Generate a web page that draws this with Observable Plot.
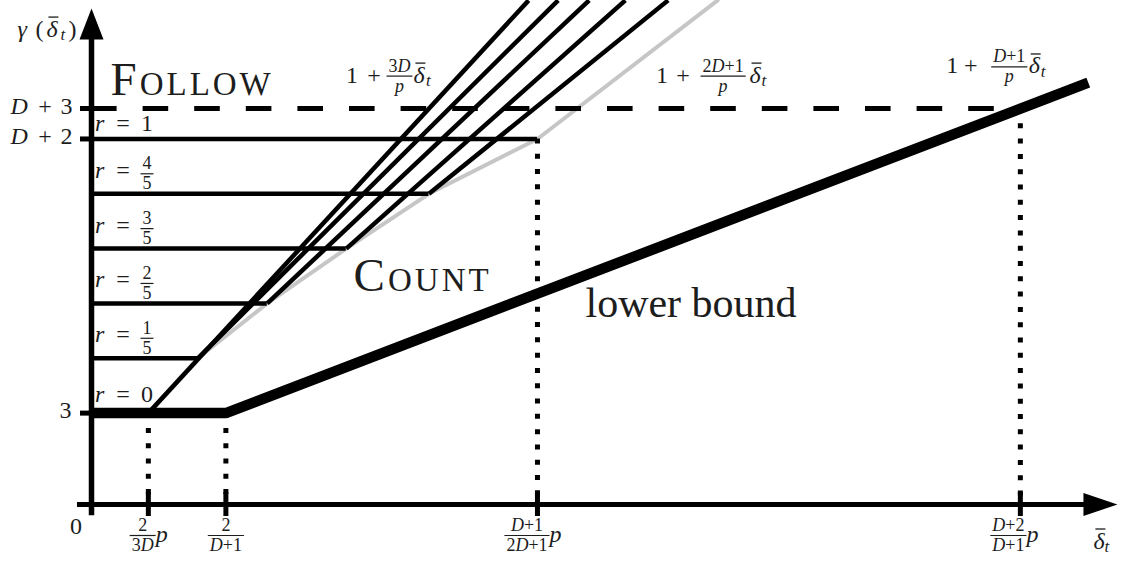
<!DOCTYPE html>
<html>
<head>
<meta charset="utf-8">
<script src="https://cdn.jsdelivr.net/npm/d3@7"></script>
<script src="https://cdn.jsdelivr.net/npm/@observablehq/plot@0.6"></script>
<style>
  html, body { margin: 0; padding: 0; background: #fff; }
  #chart svg { display: block; }
</style>
</head>
<body>
<div id="chart"></div>
<script>
// γ(δ̄_t) against δ̄_t, drawn for D = 10: the Follow / Count regions,
// the r-thresholds between them and the lower bound.

// r-levels γ = 3 + r(D − 1), r = 0, 1/5, …, 1
const rValues = ["0", "1/5", "2/5", "3/5", "4/5", "1"];
const rLevels = [3, 4.8, 6.6, 8.4, 10.2, 12];
const followLevel = 13; // D + 3

// δ̄_t at which each r-level turns into its sloped line (on the grey envelope)
const kinkX = [0.077, 0.144, 0.238, 0.345, 0.457, 0.604];
// δ̄_t where each sloped line leaves the top of the chart
const exitX = [0.592, 0.632, 0.674, 0.723, 0.781, 0.848];
const exitY = 16.55;

// lower bound: flat at 3, then rising past D + 3
const boundX = [0, 0.182, 1.350];
const boundY = [3, 3, 13.85];

// ticks and the level each dotted guide drops from
const xTicks = [0.077, 0.182, 0.604, 1.258];
const xGuideTop = [3, 3, 12, 13];
const xTickLabels = ["2/3D p", "2/D+1", "D+1/2D+1 p", "D+2/D+1 p"];
const yTicks = [3, 12, 13];
const yTickLabels = ["3", "D+2", "D+3"];

// slopes of the labelled lines, 1 + slope·δ̄_t
const lineSlopes = ["3D/p", "2D+1/p", "D+1/p"];

// axis extents
const xAxisX = [-0.019, 1.3895];
const yAxisY = [16.28, -0.37];

// ---------- text helpers ----------
const serif = '"Liberation Serif", "Times New Roman", serif';
const ink = "#1d1d1d";
const SCRIPT = 18;
const measure = document.createElement("canvas").getContext("2d");
function widthOf(s, size, italic) {
  measure.font = `${italic ? "italic " : ""}${size}px "Liberation Serif"`;
  return measure.measureText(s).width;
}
// variables italic, digits and operators upright
function mathParts(s) {
  return s.match(/[A-Za-zα-ω]+|[^A-Za-zα-ω]+/g)
    .map(t => /[A-Za-zα-ω]/.test(t) ? [t, {italic: true}] : [t]);
}
function piece(x, y, s, o = {}) {
  return Plot.text([{x, y, s}], {
    x: "x", y: "y", text: "s",
    dx: o.dx ?? 0, dy: o.dy ?? 0,
    fontSize: o.size ?? 24,
    fontStyle: o.italic ? "italic" : "normal",
    fontFamily: serif,
    fontVariant: o.variant,
    textAnchor: o.anchor ?? "start",
    lineAnchor: "bottom",
    fill: ink
  });
}
// a run of styled parts on one baseline
function run(x, y, parts, {dx = 0, dy = 0, anchor = "start", size = 24} = {}) {
  const ps = parts.map(([s, o = {}]) => ({s, ...o, size: o.size ?? size}));
  const w = ps.map(p => widthOf(p.s, p.size, p.italic));
  const total = d3.sum(ps, (p, i) => (p.gap ?? 0) + w[i]);
  let cur = anchor === "middle" ? -total / 2 : anchor === "end" ? -total : 0;
  return ps.map((p, i) => {
    cur += p.gap ?? 0;
    const m = piece(x, y, p.s, {dx: dx + cur, dy: dy + (p.shift ?? 0), size: p.size, italic: p.italic});
    cur += w[i];
    return m;
  });
}
const hbar = (w, t = 1.2) => ({draw(c) { c.rect(-w / 2, -t / 2, w, t); }});
function rule(x, y, w, dx, dy, t) {
  return Plot.dot([{x, y}], {x: "x", y: "y", symbol: hbar(w, t), fill: ink, stroke: "none", dx, dy});
}
// stacked fraction; dy is the fraction bar
function frac(x, y, num, den, {dx = 0, dy = 0, size = SCRIPT} = {}) {
  const wid = (parts) => d3.sum(parts, ([s, o = {}]) => widthOf(s, size, o.italic));
  const barW = Math.max(wid(num), wid(den)) + 4;
  return [
    ...run(x, y, num, {dx, dy: dy - 4.5, anchor: "middle", size}),
    ...run(x, y, den, {dx, dy: dy + 15.5, anchor: "middle", size}),
    rule(x, y, barW, dx, dy, 1.2)
  ];
}
// δ̄ with subscript t; dx is the left edge of δ, tdx the left edge of t
function deltaT(x, y, {dx = 0, dy = 0, tdx} = {}) {
  const wd = widthOf("δ", 24, true);
  return [
    piece(x, y, "δ", {italic: true, dx, dy}),
    rule(x, y, 10, dx + wd * 0.62, dy - 19.5, 1.3),
    piece(x, y, "t", {italic: true, size: 17, dx: tdx ?? dx + wd + 0.5, dy: dy + 3.6})
  ];
}

// arrowheads, tip at the origin
const arrowUp = {draw(c) { c.moveTo(0, 0); c.lineTo(12, 31); c.lineTo(-12, 31); c.closePath(); }};
const arrowRight = {draw(c) { c.moveTo(0, 0); c.lineTo(-34, -11.5); c.lineTo(-34, 11.5); c.closePath(); }};

// ---------- marks ----------
const envelope = kinkX.map((x, i) => ({x, y: rLevels[i]})).concat([{x: exitX[5], y: exitY}]);
const slopes = kinkX.slice(0, 5).map((x, i) => ({x1: x, y1: rLevels[i], x2: exitX[i], y2: exitY}));
const rLines = rLevels.slice(1).map((y, i) => ({y, x2: kinkX[i + 1]}));
const bound = boundX.map((x, i) => ({x, y: boundY[i]}));
const guides = xTicks.map((x, i) => ({x, top: xGuideTop[i]}));

const marks = [
  // grey envelope of the Count thresholds
  Plot.line(envelope, {x: "x", y: "y", stroke: "#c6c6c6", strokeWidth: 4}),
  // r-levels and their sloped continuations
  Plot.ruleY(rLines, {y: "y", x1: 0, x2: "x2", stroke: "black", strokeWidth: 4.5}),
  Plot.link(slopes, {x1: "x1", y1: "y1", x2: "x2", y2: "y2", stroke: "black", strokeWidth: 4.5}),
  // dotted guides down to the δ̄_t axis
  Plot.ruleX(guides, {x: "x", y1: "top", y2: 0, stroke: "black", strokeWidth: 5, strokeDasharray: "5,10.3"}),
  // Follow threshold D + 3
  Plot.ruleY([followLevel], {x1: 0, x2: xTicks[3], stroke: "black", strokeWidth: 5, strokeDasharray: "25.6,26"}),
  // lower bound
  Plot.line(bound, {x: "x", y: "y", stroke: "black", strokeWidth: 10.5, strokeLinejoin: "miter", strokeLinecap: "butt"}),
  // axes
  Plot.ruleY([0], {x1: xAxisX[0], x2: xAxisX[1], insetRight: 16, stroke: "black", strokeWidth: 5}),
  Plot.ruleX([0], {y1: yAxisY[0], y2: yAxisY[1], insetTop: 16, stroke: "black", strokeWidth: 5.5}),
  Plot.ruleX(xTicks, {x: d => d, y1: 0, y2: 0, insetTop: -12, insetBottom: -12, stroke: "black", strokeWidth: 5}),
  Plot.ruleY(yTicks, {y: d => d, x1: 0, x2: 0, insetLeft: -11, stroke: "black", strokeWidth: 5}),
  Plot.dot([{x: 0, y: yAxisY[0]}], {x: "x", y: "y", symbol: arrowUp, fill: "black", stroke: "none"}),
  Plot.dot([{x: xAxisX[1], y: 0}], {x: "x", y: "y", symbol: arrowRight, fill: "black", stroke: "none"}),
];

// axis titles
marks.push(piece(0, yAxisY[0], "γ", {italic: true, dx: -74, dy: 28}),
           piece(0, yAxisY[0], "(", {dx: -56, dy: 28}),
           ...deltaT(0, yAxisY[0], {dx: -45, dy: 28, tdx: -31}),
           piece(0, yAxisY[0], ")", {dx: -23, dy: 28}));
marks.push(...deltaT(xAxisX[1], 0, {dx: -24, dy: 44, tdx: -13}));

// y tick labels
yTicks.forEach((y, i) => {
  const s = yTickLabels[i];
  if (s.includes("+")) {
    const [a, b] = s.split("+");
    marks.push(piece(0, y, a, {italic: true, dx: -81, dy: 5.5}),
               piece(0, y, "+", {anchor: "middle", dx: -46.5, dy: 5.5}),
               piece(0, y, b, {anchor: "end", dx: -19, dy: 5.5}));
  } else {
    marks.push(piece(0, y, s, {anchor: "end", dx: -20, dy: 4.5}));
  }
});
marks.push(piece(0, 0, "0", {anchor: "middle", dx: -15.5, dy: 29}));

// x tick labels
const xLabelShift = [-5.7, 0, -10.5, -12];
xTicks.forEach((x, i) => {
  const [f, tail] = xTickLabels[i].split(" ");
  const [n, d] = f.split("/");
  const dx = xLabelShift[i];
  marks.push(...frac(x, 0, mathParts(n), mathParts(d), {dx, dy: 31}));
  if (tail) {
    const wn = d3.sum(mathParts(n), ([s, o = {}]) => widthOf(s, SCRIPT, o.italic));
    const wd = d3.sum(mathParts(d), ([s, o = {}]) => widthOf(s, SCRIPT, o.italic));
    marks.push(piece(x, 0, tail, {italic: true, dx: dx + Math.max(wn, wd) / 2 + 2, dy: 37}));
  }
});

// r labels above each level
rLevels.forEach((y, i) => {
  const v = rValues[i];
  if (v.includes("/")) {
    const [n, d] = v.split("/");
    marks.push(piece(0, y, "r", {italic: true, dx: 3.5, dy: -16}),
               piece(0, y, "=", {anchor: "middle", dx: 31.5, dy: -16}),
               ...frac(0, y, [[n]], [[d]], {dx: 55.5, dy: -20}));
  } else {
    const base = i === 0 ? -11 : -7.5;
    marks.push(piece(0, y, "r", {italic: true, dx: 3.5, dy: base}),
               piece(0, y, "=", {anchor: "middle", dx: 31.5, dy: base}),
               piece(0, y, v, {anchor: "middle", dx: 55.5, dy: base}));
  }
});

// line formulas 1 + slope·δ̄_t
const formulaLayout = [
  {x: 0.344, y: 13.85, plus: 28.5, frac: 54, delta: 68, t: 80.5},
  {x: 0.764, y: 13.85, plus: 27.5, frac: 67.5, delta: 94, t: 106},
  {x: 1.157, y: 14.15, plus: 25, frac: 63.5, delta: 83, t: 95}
];
lineSlopes.forEach((s, i) => {
  const L = formulaLayout[i];
  const [n, d] = s.split("/");
  marks.push(piece(L.x, L.y, "1", {dx: 0.5}),
             piece(L.x, L.y, "+", {anchor: "middle", dx: L.plus}),
             ...frac(L.x, L.y, mathParts(n), mathParts(d), {dx: L.frac, dy: -6.5}),
             ...deltaT(L.x, L.y, {dx: L.delta, tdx: L.t}));
});

// region names
marks.push(piece(0, followLevel, "Follow", {dx: 19, dy: -13.6, size: 47, variant: "small-caps"}));
marks.push(piece(0.355, 7, "Count", {size: 47, variant: "small-caps"}));
marks.push(piece(0.669, 6.17, "lower bound", {size: 42}));

const chart = Plot.plot({
  width: 1121,
  height: 563,
  margin: 0,
  x: {domain: [0, 1.2582], range: [91, 1020], axis: null},
  y: {domain: [0, 13], range: [504, 108], axis: null},
  style: {background: "white"},
  marks
});
d3.select(chart).selectAll("text")
  .filter(function () { return this.textContent === "Follow" || this.textContent === "Count"; })
  .attr("letter-spacing", 3);
document.getElementById("chart").append(chart);
</script>
</body>
</html>
